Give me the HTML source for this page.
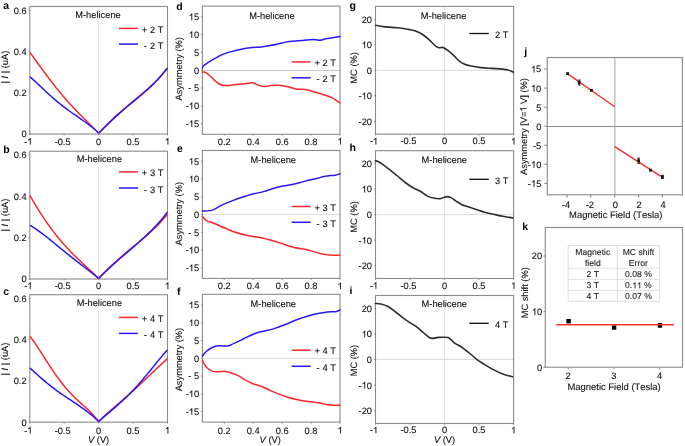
<!DOCTYPE html>
<html><head><meta charset="utf-8"><style>
html,body{margin:0;padding:0;background:#fff;overflow:hidden;width:685px;height:446px;}
svg{display:block;}
text{font-family:"Liberation Sans",sans-serif;text-rendering:geometricPrecision;font-kerning:none;white-space:pre;}
</style></head><body>
<svg width="685" height="446" viewBox="0 0 685 446">
<defs><filter id="soft" x="0" y="0" width="100%" height="100%" color-interpolation-filters="sRGB"><feOffset dx="0" dy="0"/></filter></defs>
<rect x="0" y="0" width="685" height="446" fill="#fff"/>
<g filter="url(#soft)">
<rect x="0" y="0" width="685" height="446" fill="#fff"/>
<line x1="98.60" y1="6.50" x2="98.60" y2="134.00" stroke="#e4e4e4" stroke-width="1.0"/>
<rect x="29.80" y="6.50" width="137.70" height="127.50" fill="none" stroke="#8a8a8a" stroke-width="1.1"/>
<line x1="28.50" y1="134.00" x2="29.80" y2="134.00" stroke="#8a8a8a" stroke-width="1.1"/>
<text x="26.60" y="137.40" font-size="9.3" text-anchor="end" font-weight="normal" fill="#111111" stroke="#111111" stroke-width="0.1" >0</text>
<line x1="28.50" y1="92.70" x2="29.80" y2="92.70" stroke="#8a8a8a" stroke-width="1.1"/>
<text x="26.60" y="96.10" font-size="9.3" text-anchor="end" font-weight="normal" fill="#111111" stroke="#111111" stroke-width="0.1" >0.2</text>
<line x1="28.50" y1="51.41" x2="29.80" y2="51.41" stroke="#8a8a8a" stroke-width="1.1"/>
<text x="26.60" y="54.81" font-size="9.3" text-anchor="end" font-weight="normal" fill="#111111" stroke="#111111" stroke-width="0.1" >0.4</text>
<line x1="28.50" y1="10.11" x2="29.80" y2="10.11" stroke="#8a8a8a" stroke-width="1.1"/>
<text x="26.60" y="13.51" font-size="9.3" text-anchor="end" font-weight="normal" fill="#111111" stroke="#111111" stroke-width="0.1" >0.6</text>
<line x1="29.75" y1="134.00" x2="29.75" y2="135.30" stroke="#8a8a8a" stroke-width="1.1"/>
<path d="M30.63,144.60 L29.81,144.60 L29.81,139.39 C29.52,139.67 29.04,139.95 28.18,140.38 L28.18,139.59 C29.02,139.21 29.67,138.65 30.08,137.94 L30.63,137.94 Z" fill="#111111" stroke="#111111" stroke-width="0.1"/>
<text x="27.16" y="144.60" font-size="9.3" text-anchor="start" font-weight="normal" fill="#111111" stroke="#111111" stroke-width="0.1" > </text>
<text x="27.36" y="144.60" font-size="9.3" text-anchor="end" font-weight="normal" fill="#111111" stroke="#111111" stroke-width="0.1" >-</text>
<line x1="64.17" y1="134.00" x2="64.17" y2="135.30" stroke="#8a8a8a" stroke-width="1.1"/>
<text x="64.17" y="144.60" font-size="9.3" text-anchor="middle" font-weight="normal" fill="#111111" stroke="#111111" stroke-width="0.1" >0.5</text>
<text x="57.91" y="144.60" font-size="9.3" text-anchor="end" font-weight="normal" fill="#111111" stroke="#111111" stroke-width="0.1" >-</text>
<line x1="98.60" y1="134.00" x2="98.60" y2="135.30" stroke="#8a8a8a" stroke-width="1.1"/>
<text x="98.60" y="144.60" font-size="9.3" text-anchor="middle" font-weight="normal" fill="#111111" stroke="#111111" stroke-width="0.1" >0</text>
<line x1="133.02" y1="134.00" x2="133.02" y2="135.30" stroke="#8a8a8a" stroke-width="1.1"/>
<text x="133.02" y="144.60" font-size="9.3" text-anchor="middle" font-weight="normal" fill="#111111" stroke="#111111" stroke-width="0.1" >0.5</text>
<line x1="167.45" y1="134.00" x2="167.45" y2="135.30" stroke="#8a8a8a" stroke-width="1.1"/>
<path d="M168.33,144.60 L167.51,144.60 L167.51,139.39 C167.22,139.67 166.74,139.95 165.88,140.38 L165.88,139.59 C166.72,139.21 167.37,138.65 167.78,137.94 L168.33,137.94 Z" fill="#111111" stroke="#111111" stroke-width="0.1"/>
<text x="164.86" y="144.60" font-size="9.3" text-anchor="start" font-weight="normal" fill="#111111" stroke="#111111" stroke-width="0.1" > </text>
<polyline points="98.60,133.00 96.84,131.23 95.08,129.48 93.32,127.74 91.56,126.01 89.81,124.27 88.05,122.54 86.29,120.81 84.53,119.06 82.77,117.30 81.01,115.53 79.25,113.74 77.49,111.93 75.73,110.09 73.97,108.23 72.22,106.34 70.46,104.42 68.70,102.48 66.94,100.50 65.18,98.49 63.42,96.44 61.66,94.37 59.90,92.26 58.14,90.12 56.38,87.94 54.63,85.74 52.87,83.50 51.11,81.24 49.35,78.94 47.59,76.62 45.83,74.28 44.07,71.91 42.31,69.53 40.55,67.13 38.79,64.71 37.04,62.28 35.28,59.85 33.52,57.41 31.76,54.98 30.00,52.55" fill="none" stroke="#fa272c" stroke-width="1.5" stroke-linejoin="round"/>
<polyline points="98.60,133.00 96.84,131.31 95.08,129.72 93.32,128.21 91.56,126.77 89.81,125.39 88.05,124.05 86.29,122.76 84.53,121.51 82.77,120.27 81.01,119.05 79.25,117.85 77.49,116.64 75.73,115.44 73.97,114.22 72.22,113.00 70.46,111.75 68.70,110.49 66.94,109.20 65.18,107.88 63.42,106.54 61.66,105.17 59.90,103.76 58.14,102.32 56.38,100.86 54.63,99.36 52.87,97.83 51.11,96.27 49.35,94.69 47.59,93.09 45.83,91.46 44.07,89.82 42.31,88.17 40.55,86.52 38.79,84.86 37.04,83.21 35.28,81.57 33.52,79.96 31.76,78.36 30.00,76.81" fill="none" stroke="#2818f8" stroke-width="1.5" stroke-linejoin="round"/>
<polyline points="98.60,133.30 100.36,131.46 102.12,129.64 103.88,127.84 105.65,126.06 107.41,124.31 109.17,122.58 110.93,120.87 112.69,119.19 114.45,117.53 116.22,115.90 117.98,114.30 119.74,112.71 121.50,111.15 123.26,109.62 125.02,108.10 126.78,106.59 128.55,105.11 130.31,103.63 132.07,102.17 133.83,100.72 135.59,99.26 137.35,97.81 139.12,96.35 140.88,94.89 142.64,93.41 144.40,91.92 146.16,90.40 147.92,88.85 149.68,87.27 151.45,85.65 153.21,83.99 154.97,82.27 156.73,80.49 158.49,78.65 160.25,76.73 162.02,74.73 163.78,72.65 165.54,70.46 167.30,68.17" fill="none" stroke="#fa272c" stroke-width="1.5" stroke-linejoin="round"/>
<polyline points="98.60,133.30 100.36,131.51 102.12,129.74 103.88,127.98 105.65,126.24 107.41,124.51 109.17,122.81 110.93,121.14 112.69,119.48 114.45,117.84 116.22,116.23 117.98,114.64 119.74,113.07 121.50,111.52 123.26,109.99 125.02,108.47 126.78,106.98 128.55,105.49 130.31,104.02 132.07,102.55 133.83,101.09 135.59,99.63 137.35,98.17 139.12,96.70 140.88,95.22 142.64,93.73 144.40,92.22 146.16,90.68 147.92,89.11 149.68,87.51 151.45,85.86 153.21,84.16 154.97,82.41 156.73,80.60 158.49,78.71 160.25,76.75 162.02,74.71 163.78,72.57 165.54,70.33 167.30,67.98" fill="none" stroke="#2818f8" stroke-width="1.5" stroke-linejoin="round"/>
<text x="98.00" y="17.90" font-size="9.3" text-anchor="middle" font-weight="normal" fill="#111111" stroke="#111111" stroke-width="0.1" >M-helicene</text>
<line x1="118.90" y1="28.40" x2="137.90" y2="28.40" stroke="#fa272c" stroke-width="1.5"/>
<line x1="118.90" y1="44.10" x2="137.90" y2="44.10" stroke="#2818f8" stroke-width="1.5"/>
<text x="150.00" y="32.90" font-size="9.3" text-anchor="start" font-weight="normal" fill="#111111" stroke="#111111" stroke-width="0.1" >2 T</text>
<text x="150.00" y="48.60" font-size="9.3" text-anchor="start" font-weight="normal" fill="#111111" stroke="#111111" stroke-width="0.1" >2 T</text>
<text x="141.70" y="32.90" font-size="9.3" text-anchor="start" font-weight="normal" fill="#111111" stroke="#111111" stroke-width="0.1" >+</text>
<text x="143.70" y="48.60" font-size="9.3" text-anchor="start" font-weight="normal" fill="#111111" stroke="#111111" stroke-width="0.1" >-</text>
<text x="3.20" y="8.60" font-size="10.5" text-anchor="start" font-weight="bold" fill="#000" stroke="#000" stroke-width="0" >a</text>
<text x="0" y="0" font-size="9.3" text-anchor="middle" fill="#111111" stroke="#111111" stroke-width="0.1" transform="translate(8.30,67.10) rotate(-90)">| <tspan font-style="italic">I</tspan> | (uA)</text>
<line x1="98.60" y1="151.20" x2="98.60" y2="279.00" stroke="#e4e4e4" stroke-width="1.0"/>
<rect x="29.80" y="151.20" width="137.70" height="127.80" fill="none" stroke="#8a8a8a" stroke-width="1.1"/>
<line x1="28.50" y1="279.00" x2="29.80" y2="279.00" stroke="#8a8a8a" stroke-width="1.1"/>
<text x="26.60" y="282.40" font-size="9.3" text-anchor="end" font-weight="normal" fill="#111111" stroke="#111111" stroke-width="0.1" >0</text>
<line x1="28.50" y1="237.61" x2="29.80" y2="237.61" stroke="#8a8a8a" stroke-width="1.1"/>
<text x="26.60" y="241.01" font-size="9.3" text-anchor="end" font-weight="normal" fill="#111111" stroke="#111111" stroke-width="0.1" >0.2</text>
<line x1="28.50" y1="196.21" x2="29.80" y2="196.21" stroke="#8a8a8a" stroke-width="1.1"/>
<text x="26.60" y="199.61" font-size="9.3" text-anchor="end" font-weight="normal" fill="#111111" stroke="#111111" stroke-width="0.1" >0.4</text>
<line x1="28.50" y1="154.82" x2="29.80" y2="154.82" stroke="#8a8a8a" stroke-width="1.1"/>
<text x="26.60" y="158.22" font-size="9.3" text-anchor="end" font-weight="normal" fill="#111111" stroke="#111111" stroke-width="0.1" >0.6</text>
<line x1="29.75" y1="279.00" x2="29.75" y2="280.30" stroke="#8a8a8a" stroke-width="1.1"/>
<path d="M30.63,289.00 L29.81,289.00 L29.81,283.79 C29.52,284.07 29.04,284.35 28.18,284.78 L28.18,283.99 C29.02,283.61 29.67,283.05 30.08,282.34 L30.63,282.34 Z" fill="#111111" stroke="#111111" stroke-width="0.1"/>
<text x="27.16" y="289.00" font-size="9.3" text-anchor="start" font-weight="normal" fill="#111111" stroke="#111111" stroke-width="0.1" > </text>
<text x="27.36" y="289.00" font-size="9.3" text-anchor="end" font-weight="normal" fill="#111111" stroke="#111111" stroke-width="0.1" >-</text>
<line x1="64.17" y1="279.00" x2="64.17" y2="280.30" stroke="#8a8a8a" stroke-width="1.1"/>
<text x="64.17" y="289.00" font-size="9.3" text-anchor="middle" font-weight="normal" fill="#111111" stroke="#111111" stroke-width="0.1" >0.5</text>
<text x="57.91" y="289.00" font-size="9.3" text-anchor="end" font-weight="normal" fill="#111111" stroke="#111111" stroke-width="0.1" >-</text>
<line x1="98.60" y1="279.00" x2="98.60" y2="280.30" stroke="#8a8a8a" stroke-width="1.1"/>
<text x="98.60" y="289.00" font-size="9.3" text-anchor="middle" font-weight="normal" fill="#111111" stroke="#111111" stroke-width="0.1" >0</text>
<line x1="133.02" y1="279.00" x2="133.02" y2="280.30" stroke="#8a8a8a" stroke-width="1.1"/>
<text x="133.02" y="289.00" font-size="9.3" text-anchor="middle" font-weight="normal" fill="#111111" stroke="#111111" stroke-width="0.1" >0.5</text>
<line x1="167.45" y1="279.00" x2="167.45" y2="280.30" stroke="#8a8a8a" stroke-width="1.1"/>
<path d="M168.33,289.00 L167.51,289.00 L167.51,283.79 C167.22,284.07 166.74,284.35 165.88,284.78 L165.88,283.99 C166.72,283.61 167.37,283.05 167.78,282.34 L168.33,282.34 Z" fill="#111111" stroke="#111111" stroke-width="0.1"/>
<text x="164.86" y="289.00" font-size="9.3" text-anchor="start" font-weight="normal" fill="#111111" stroke="#111111" stroke-width="0.1" > </text>
<polyline points="98.60,278.40 96.84,276.67 95.08,274.97 93.32,273.30 91.56,271.64 89.81,270.00 88.05,268.36 86.29,266.72 84.53,265.09 82.77,263.44 81.01,261.79 79.25,260.12 77.49,258.43 75.73,256.72 73.97,254.98 72.22,253.21 70.46,251.41 68.70,249.57 66.94,247.69 65.18,245.76 63.42,243.79 61.66,241.78 59.90,239.71 58.14,237.59 56.38,235.42 54.63,233.19 52.87,230.91 51.11,228.56 49.35,226.16 47.59,223.69 45.83,221.16 44.07,218.57 42.31,215.92 40.55,213.20 38.79,210.42 37.04,207.57 35.28,204.66 33.52,201.69 31.76,198.65 30.00,195.55" fill="none" stroke="#fa272c" stroke-width="1.5" stroke-linejoin="round"/>
<polyline points="98.60,278.40 96.84,276.95 95.08,275.53 93.32,274.12 91.56,272.73 89.81,271.36 88.05,269.99 86.29,268.64 84.53,267.28 82.77,265.92 81.01,264.57 79.25,263.21 77.49,261.85 75.73,260.48 73.97,259.10 72.22,257.71 70.46,256.32 68.70,254.92 66.94,253.51 65.18,252.09 63.42,250.67 61.66,249.24 59.90,247.80 58.14,246.36 56.38,244.92 54.63,243.48 52.87,242.04 51.11,240.61 49.35,239.19 47.59,237.78 45.83,236.39 44.07,235.01 42.31,233.66 40.55,232.34 38.79,231.06 37.04,229.81 35.28,228.60 33.52,227.45 31.76,226.35 30.00,225.31" fill="none" stroke="#2818f8" stroke-width="1.5" stroke-linejoin="round"/>
<polyline points="98.60,278.50 100.36,276.64 102.12,274.81 103.88,273.01 105.65,271.25 107.41,269.51 109.17,267.80 110.93,266.13 112.69,264.48 114.45,262.85 116.22,261.25 117.98,259.68 119.74,258.13 121.50,256.60 123.26,255.08 125.02,253.59 126.78,252.10 128.55,250.63 130.31,249.17 132.07,247.71 133.83,246.26 135.59,244.81 137.35,243.36 139.12,241.90 140.88,240.43 142.64,238.95 144.40,237.45 146.16,235.93 147.92,234.39 149.68,232.81 151.45,231.21 153.21,229.56 154.97,227.87 156.73,226.14 158.49,224.35 160.25,222.51 162.02,220.60 163.78,218.62 165.54,216.57 167.30,214.44" fill="none" stroke="#fa272c" stroke-width="1.5" stroke-linejoin="round"/>
<polyline points="98.60,278.50 100.36,276.73 102.12,274.99 103.88,273.27 105.65,271.57 107.41,269.90 109.17,268.25 110.93,266.63 112.69,265.02 114.45,263.43 116.22,261.85 117.98,260.29 119.74,258.75 121.50,257.21 123.26,255.69 125.02,254.17 126.78,252.65 128.55,251.14 130.31,249.63 132.07,248.11 133.83,246.59 135.59,245.06 137.35,243.52 139.12,241.97 140.88,240.39 142.64,238.80 144.40,237.18 146.16,235.54 147.92,233.87 149.68,232.16 151.45,230.41 153.21,228.62 154.97,226.78 156.73,224.89 158.49,222.95 160.25,220.95 162.02,218.89 163.78,216.75 165.54,214.55 167.30,212.27" fill="none" stroke="#2818f8" stroke-width="1.5" stroke-linejoin="round"/>
<text x="99.40" y="161.80" font-size="9.3" text-anchor="middle" font-weight="normal" fill="#111111" stroke="#111111" stroke-width="0.1" >M-helicene</text>
<line x1="118.90" y1="171.90" x2="137.90" y2="171.90" stroke="#fa272c" stroke-width="1.5"/>
<line x1="118.90" y1="188.00" x2="137.90" y2="188.00" stroke="#2818f8" stroke-width="1.5"/>
<text x="150.00" y="176.40" font-size="9.3" text-anchor="start" font-weight="normal" fill="#111111" stroke="#111111" stroke-width="0.1" >3 T</text>
<text x="150.00" y="192.50" font-size="9.3" text-anchor="start" font-weight="normal" fill="#111111" stroke="#111111" stroke-width="0.1" >3 T</text>
<text x="141.70" y="176.40" font-size="9.3" text-anchor="start" font-weight="normal" fill="#111111" stroke="#111111" stroke-width="0.1" >+</text>
<text x="143.70" y="192.50" font-size="9.3" text-anchor="start" font-weight="normal" fill="#111111" stroke="#111111" stroke-width="0.1" >-</text>
<text x="3.20" y="153.10" font-size="10.5" text-anchor="start" font-weight="bold" fill="#000" stroke="#000" stroke-width="0" >b</text>
<text x="0" y="0" font-size="9.3" text-anchor="middle" fill="#111111" stroke="#111111" stroke-width="0.1" transform="translate(8.30,215.00) rotate(-90)">| <tspan font-style="italic">I</tspan> | (uA)</text>
<line x1="98.60" y1="294.70" x2="98.60" y2="422.20" stroke="#e4e4e4" stroke-width="1.0"/>
<rect x="29.80" y="294.70" width="137.70" height="127.50" fill="none" stroke="#8a8a8a" stroke-width="1.1"/>
<line x1="28.50" y1="422.20" x2="29.80" y2="422.20" stroke="#8a8a8a" stroke-width="1.1"/>
<text x="26.60" y="425.60" font-size="9.3" text-anchor="end" font-weight="normal" fill="#111111" stroke="#111111" stroke-width="0.1" >0</text>
<line x1="28.50" y1="380.90" x2="29.80" y2="380.90" stroke="#8a8a8a" stroke-width="1.1"/>
<text x="26.60" y="384.30" font-size="9.3" text-anchor="end" font-weight="normal" fill="#111111" stroke="#111111" stroke-width="0.1" >0.2</text>
<line x1="28.50" y1="339.61" x2="29.80" y2="339.61" stroke="#8a8a8a" stroke-width="1.1"/>
<text x="26.60" y="343.01" font-size="9.3" text-anchor="end" font-weight="normal" fill="#111111" stroke="#111111" stroke-width="0.1" >0.4</text>
<line x1="28.50" y1="298.31" x2="29.80" y2="298.31" stroke="#8a8a8a" stroke-width="1.1"/>
<text x="26.60" y="301.71" font-size="9.3" text-anchor="end" font-weight="normal" fill="#111111" stroke="#111111" stroke-width="0.1" >0.6</text>
<line x1="29.75" y1="422.20" x2="29.75" y2="423.50" stroke="#8a8a8a" stroke-width="1.1"/>
<path d="M30.63,433.50 L29.81,433.50 L29.81,428.29 C29.52,428.57 29.04,428.85 28.18,429.28 L28.18,428.49 C29.02,428.11 29.67,427.55 30.08,426.84 L30.63,426.84 Z" fill="#111111" stroke="#111111" stroke-width="0.1"/>
<text x="27.16" y="433.50" font-size="9.3" text-anchor="start" font-weight="normal" fill="#111111" stroke="#111111" stroke-width="0.1" > </text>
<text x="27.36" y="433.50" font-size="9.3" text-anchor="end" font-weight="normal" fill="#111111" stroke="#111111" stroke-width="0.1" >-</text>
<line x1="64.17" y1="422.20" x2="64.17" y2="423.50" stroke="#8a8a8a" stroke-width="1.1"/>
<text x="64.17" y="433.50" font-size="9.3" text-anchor="middle" font-weight="normal" fill="#111111" stroke="#111111" stroke-width="0.1" >0.5</text>
<text x="57.91" y="433.50" font-size="9.3" text-anchor="end" font-weight="normal" fill="#111111" stroke="#111111" stroke-width="0.1" >-</text>
<line x1="98.60" y1="422.20" x2="98.60" y2="423.50" stroke="#8a8a8a" stroke-width="1.1"/>
<text x="98.60" y="433.50" font-size="9.3" text-anchor="middle" font-weight="normal" fill="#111111" stroke="#111111" stroke-width="0.1" >0</text>
<line x1="133.02" y1="422.20" x2="133.02" y2="423.50" stroke="#8a8a8a" stroke-width="1.1"/>
<text x="133.02" y="433.50" font-size="9.3" text-anchor="middle" font-weight="normal" fill="#111111" stroke="#111111" stroke-width="0.1" >0.5</text>
<line x1="167.45" y1="422.20" x2="167.45" y2="423.50" stroke="#8a8a8a" stroke-width="1.1"/>
<path d="M168.33,433.50 L167.51,433.50 L167.51,428.29 C167.22,428.57 166.74,428.85 165.88,429.28 L165.88,428.49 C166.72,428.11 167.37,427.55 167.78,426.84 L168.33,426.84 Z" fill="#111111" stroke="#111111" stroke-width="0.1"/>
<text x="164.86" y="433.50" font-size="9.3" text-anchor="start" font-weight="normal" fill="#111111" stroke="#111111" stroke-width="0.1" > </text>
<polyline points="98.60,421.50 96.84,419.23 95.08,417.12 93.32,415.14 91.56,413.28 89.81,411.51 88.05,409.80 86.29,408.15 84.53,406.54 82.77,404.94 81.01,403.34 79.25,401.72 77.49,400.09 75.73,398.42 73.97,396.70 72.22,394.92 70.46,393.08 68.70,391.18 66.94,389.20 65.18,387.15 63.42,385.01 61.66,382.80 59.90,380.51 58.14,378.14 56.38,375.70 54.63,373.18 52.87,370.61 51.11,367.97 49.35,365.29 47.59,362.57 45.83,359.82 44.07,357.06 42.31,354.30 40.55,351.55 38.79,348.83 37.04,346.15 35.28,343.55 33.52,341.03 31.76,338.61 30.00,336.33" fill="none" stroke="#fa272c" stroke-width="1.5" stroke-linejoin="round"/>
<polyline points="98.60,421.50 96.84,419.77 95.08,418.13 93.32,416.55 91.56,415.05 89.81,413.61 88.05,412.22 86.29,410.88 84.53,409.58 82.77,408.31 81.01,407.07 79.25,405.86 77.49,404.67 75.73,403.48 73.97,402.31 72.22,401.15 70.46,399.98 68.70,398.81 66.94,397.63 65.18,396.45 63.42,395.25 61.66,394.03 59.90,392.80 58.14,391.55 56.38,390.27 54.63,388.97 52.87,387.65 51.11,386.30 49.35,384.92 47.59,383.51 45.83,382.08 44.07,380.61 42.31,379.12 40.55,377.61 38.79,376.06 37.04,374.50 35.28,372.90 33.52,371.29 31.76,369.65 30.00,368.00" fill="none" stroke="#2818f8" stroke-width="1.5" stroke-linejoin="round"/>
<polyline points="98.60,421.60 100.36,419.87 102.12,418.18 103.88,416.53 105.65,414.91 107.41,413.31 109.17,411.74 110.93,410.18 112.69,408.63 114.45,407.10 116.22,405.57 117.98,404.04 119.74,402.51 121.50,400.99 123.26,399.45 125.02,397.91 126.78,396.36 128.55,394.81 130.31,393.24 132.07,391.66 133.83,390.07 135.59,388.46 137.35,386.85 139.12,385.22 140.88,383.58 142.64,381.93 144.40,380.27 146.16,378.60 147.92,376.93 149.68,375.25 151.45,373.57 153.21,371.89 154.97,370.21 156.73,368.54 158.49,366.87 160.25,365.22 162.02,363.59 163.78,361.98 165.54,360.39 167.30,358.84" fill="none" stroke="#fa272c" stroke-width="1.5" stroke-linejoin="round"/>
<polyline points="98.60,421.60 100.36,419.99 102.12,418.42 103.88,416.88 105.65,415.37 107.41,413.87 109.17,412.38 110.93,410.89 112.69,409.40 114.45,407.90 116.22,406.38 117.98,404.84 119.74,403.28 121.50,401.68 123.26,400.06 125.02,398.40 126.78,396.70 128.55,394.97 130.31,393.20 132.07,391.38 133.83,389.53 135.59,387.63 137.35,385.70 139.12,383.72 140.88,381.71 142.64,379.67 144.40,377.59 146.16,375.49 147.92,373.36 149.68,371.22 151.45,369.06 153.21,366.88 154.97,364.71 156.73,362.54 158.49,360.37 160.25,358.23 162.02,356.11 163.78,354.02 165.54,351.98 167.30,349.98" fill="none" stroke="#2818f8" stroke-width="1.5" stroke-linejoin="round"/>
<text x="99.40" y="305.90" font-size="9.3" text-anchor="middle" font-weight="normal" fill="#111111" stroke="#111111" stroke-width="0.1" >M-helicene</text>
<line x1="118.90" y1="317.40" x2="137.90" y2="317.40" stroke="#fa272c" stroke-width="1.5"/>
<line x1="118.90" y1="333.40" x2="137.90" y2="333.40" stroke="#2818f8" stroke-width="1.5"/>
<text x="150.00" y="321.90" font-size="9.3" text-anchor="start" font-weight="normal" fill="#111111" stroke="#111111" stroke-width="0.1" >4 T</text>
<text x="150.00" y="337.90" font-size="9.3" text-anchor="start" font-weight="normal" fill="#111111" stroke="#111111" stroke-width="0.1" >4 T</text>
<text x="141.70" y="321.90" font-size="9.3" text-anchor="start" font-weight="normal" fill="#111111" stroke="#111111" stroke-width="0.1" >+</text>
<text x="143.70" y="337.90" font-size="9.3" text-anchor="start" font-weight="normal" fill="#111111" stroke="#111111" stroke-width="0.1" >-</text>
<text x="3.20" y="294.90" font-size="10.5" text-anchor="start" font-weight="bold" fill="#000" stroke="#000" stroke-width="0" >c</text>
<text x="0" y="0" font-size="9.3" text-anchor="middle" fill="#111111" stroke="#111111" stroke-width="0.1" transform="translate(8.30,359.00) rotate(-90)">| <tspan font-style="italic">I</tspan> | (uA)</text>
<text x="98.60" y="443.00" font-size="9.3" text-anchor="middle" font-weight="normal" fill="#111111" stroke="#111111" stroke-width="0.1" ><tspan font-style="italic">V</tspan> (V)</text>
<line x1="202.40" y1="70.50" x2="340.00" y2="70.50" stroke="#c8c8c8" stroke-width="1.0"/>
<rect x="202.40" y="6.10" width="137.60" height="128.20" fill="none" stroke="#8a8a8a" stroke-width="1.1"/>
<line x1="201.10" y1="16.78" x2="202.40" y2="16.78" stroke="#8a8a8a" stroke-width="1.1"/>
<path d="M192.22,20.18 L191.40,20.18 L191.40,14.97 C191.11,15.26 190.63,15.54 189.77,15.96 L189.77,15.17 C190.62,14.79 191.27,14.23 191.68,13.53 L192.22,13.53 Z" fill="#111111" stroke="#111111" stroke-width="0.1"/>
<text x="188.76" y="20.18" font-size="9.3" text-anchor="start" font-weight="normal" fill="#111111" stroke="#111111" stroke-width="0.1" xml:space="preserve"> 5</text>
<line x1="201.10" y1="34.59" x2="202.40" y2="34.59" stroke="#8a8a8a" stroke-width="1.1"/>
<path d="M192.22,37.99 L191.40,37.99 L191.40,32.78 C191.11,33.06 190.63,33.34 189.77,33.77 L189.77,32.98 C190.62,32.59 191.27,32.04 191.68,31.33 L192.22,31.33 Z" fill="#111111" stroke="#111111" stroke-width="0.1"/>
<text x="188.76" y="37.99" font-size="9.3" text-anchor="start" font-weight="normal" fill="#111111" stroke="#111111" stroke-width="0.1" xml:space="preserve"> 0</text>
<line x1="201.10" y1="52.39" x2="202.40" y2="52.39" stroke="#8a8a8a" stroke-width="1.1"/>
<text x="199.10" y="55.79" font-size="9.3" text-anchor="end" font-weight="normal" fill="#111111" stroke="#111111" stroke-width="0.1" xml:space="preserve">5</text>
<line x1="201.10" y1="70.20" x2="202.40" y2="70.20" stroke="#8a8a8a" stroke-width="1.1"/>
<text x="199.10" y="73.60" font-size="9.3" text-anchor="end" font-weight="normal" fill="#111111" stroke="#111111" stroke-width="0.1" xml:space="preserve">0</text>
<line x1="201.10" y1="88.01" x2="202.40" y2="88.01" stroke="#8a8a8a" stroke-width="1.1"/>
<text x="199.10" y="91.41" font-size="9.3" text-anchor="end" font-weight="normal" fill="#111111" stroke="#111111" stroke-width="0.1" xml:space="preserve">- 5</text>
<line x1="201.10" y1="105.81" x2="202.40" y2="105.81" stroke="#8a8a8a" stroke-width="1.1"/>
<path d="M192.22,109.21 L191.40,109.21 L191.40,104.00 C191.11,104.28 190.63,104.57 189.77,104.99 L189.77,104.20 C190.62,103.82 191.27,103.26 191.68,102.55 L192.22,102.55 Z" fill="#111111" stroke="#111111" stroke-width="0.1"/>
<text x="185.66" y="109.21" font-size="9.3" text-anchor="start" font-weight="normal" fill="#111111" stroke="#111111" stroke-width="0.1" xml:space="preserve">- 0</text>
<line x1="201.10" y1="123.62" x2="202.40" y2="123.62" stroke="#8a8a8a" stroke-width="1.1"/>
<path d="M192.22,127.02 L191.40,127.02 L191.40,121.81 C191.11,122.09 190.63,122.37 189.77,122.79 L189.77,122.00 C190.62,121.62 191.27,121.06 191.68,120.36 L192.22,120.36 Z" fill="#111111" stroke="#111111" stroke-width="0.1"/>
<text x="185.66" y="127.02" font-size="9.3" text-anchor="start" font-weight="normal" fill="#111111" stroke="#111111" stroke-width="0.1" xml:space="preserve">- 5</text>
<line x1="224.24" y1="134.30" x2="224.24" y2="135.60" stroke="#8a8a8a" stroke-width="1.1"/>
<text x="224.24" y="144.50" font-size="9.3" text-anchor="middle" font-weight="normal" fill="#111111" stroke="#111111" stroke-width="0.1" >0.2</text>
<line x1="253.18" y1="134.30" x2="253.18" y2="135.60" stroke="#8a8a8a" stroke-width="1.1"/>
<text x="253.18" y="144.50" font-size="9.3" text-anchor="middle" font-weight="normal" fill="#111111" stroke="#111111" stroke-width="0.1" >0.4</text>
<line x1="282.12" y1="134.30" x2="282.12" y2="135.60" stroke="#8a8a8a" stroke-width="1.1"/>
<text x="282.12" y="144.50" font-size="9.3" text-anchor="middle" font-weight="normal" fill="#111111" stroke="#111111" stroke-width="0.1" >0.6</text>
<line x1="311.06" y1="134.30" x2="311.06" y2="135.60" stroke="#8a8a8a" stroke-width="1.1"/>
<text x="311.06" y="144.50" font-size="9.3" text-anchor="middle" font-weight="normal" fill="#111111" stroke="#111111" stroke-width="0.1" >0.8</text>
<line x1="340.00" y1="134.30" x2="340.00" y2="135.60" stroke="#8a8a8a" stroke-width="1.1"/>
<path d="M340.88,144.50 L340.06,144.50 L340.06,139.29 C339.77,139.57 339.29,139.85 338.43,140.28 L338.43,139.49 C339.27,139.11 339.92,138.55 340.33,137.84 L340.88,137.84 Z" fill="#111111" stroke="#111111" stroke-width="0.1"/>
<text x="337.41" y="144.50" font-size="9.3" text-anchor="start" font-weight="normal" fill="#111111" stroke="#111111" stroke-width="0.1" > </text>
<path d="M202.40,68.10 C202.60,67.72 202.20,67.00 203.60,65.80 C205.00,64.60 208.40,62.40 210.80,60.90 C213.20,59.40 215.92,57.93 218.00,56.80 C220.08,55.67 220.92,55.00 223.30,54.10 C225.68,53.20 229.30,52.20 232.30,51.40 C235.30,50.60 238.30,49.90 241.30,49.30 C244.30,48.70 247.02,48.20 250.30,47.80 C253.58,47.40 257.72,47.28 261.00,46.90 C264.28,46.52 267.32,45.95 270.00,45.50 C272.68,45.05 273.90,44.85 277.10,44.20 C280.30,43.55 285.15,42.23 289.20,41.60 C293.25,40.97 297.35,40.75 301.40,40.40 C305.45,40.05 310.30,39.53 313.50,39.50 C316.70,39.47 318.58,40.33 320.60,40.20 C322.62,40.07 323.42,39.15 325.60,38.70 C327.78,38.25 331.30,37.87 333.70,37.50 C336.10,37.13 338.95,36.67 340.00,36.50" fill="none" stroke="#2818f8" stroke-width="1.5" stroke-linejoin="round" stroke-linecap="round"/>
<path d="M202.40,72.10 C202.90,72.15 204.00,71.67 205.40,72.40 C206.80,73.13 209.00,74.92 210.80,76.50 C212.60,78.08 214.42,80.48 216.20,81.90 C217.98,83.32 219.72,84.40 221.50,85.00 C223.28,85.60 224.50,85.57 226.90,85.50 C229.30,85.43 232.90,84.90 235.90,84.60 C238.90,84.30 242.35,84.00 244.90,83.70 C247.45,83.40 249.70,82.88 251.20,82.80 C252.70,82.72 252.57,82.75 253.90,83.20 C255.23,83.65 257.42,84.93 259.20,85.50 C260.98,86.07 262.63,86.58 264.60,86.60 C266.57,86.62 268.58,85.83 271.00,85.60 C273.42,85.37 276.40,85.03 279.10,85.20 C281.80,85.37 284.17,85.93 287.20,86.60 C290.23,87.27 294.27,88.73 297.30,89.20 C300.33,89.67 302.70,88.98 305.40,89.40 C308.10,89.82 310.47,90.82 313.50,91.70 C316.53,92.58 320.57,93.70 323.60,94.70 C326.63,95.70 328.97,96.35 331.70,97.70 C334.43,99.05 338.62,101.95 340.00,102.80" fill="none" stroke="#fa272c" stroke-width="1.5" stroke-linejoin="round" stroke-linecap="round"/>
<text x="271.90" y="18.60" font-size="9.3" text-anchor="middle" font-weight="normal" fill="#111111" stroke="#111111" stroke-width="0.1" >M-helicene</text>
<line x1="291.60" y1="61.90" x2="310.70" y2="61.90" stroke="#fa272c" stroke-width="1.5"/>
<line x1="291.60" y1="77.80" x2="310.70" y2="77.80" stroke="#2818f8" stroke-width="1.5"/>
<text x="322.50" y="66.10" font-size="9.3" text-anchor="start" font-weight="normal" fill="#111111" stroke="#111111" stroke-width="0.1" >2 T</text>
<text x="322.50" y="82.00" font-size="9.3" text-anchor="start" font-weight="normal" fill="#111111" stroke="#111111" stroke-width="0.1" >2 T</text>
<text x="314.40" y="66.10" font-size="9.3" text-anchor="start" font-weight="normal" fill="#111111" stroke="#111111" stroke-width="0.1" >+</text>
<text x="316.40" y="82.00" font-size="9.3" text-anchor="start" font-weight="normal" fill="#111111" stroke="#111111" stroke-width="0.1" >-</text>
<text x="176.30" y="9.80" font-size="10.5" text-anchor="start" font-weight="bold" fill="#000" stroke="#000" stroke-width="0" >d</text>
<text x="0" y="0" font-size="9.3" text-anchor="middle" fill="#111111" stroke="#111111" stroke-width="0.1" transform="translate(182.20,68.80) rotate(-90)">Asymmetry (%)</text>
<line x1="202.40" y1="214.50" x2="340.00" y2="214.50" stroke="#e0e0e0" stroke-width="1.0"/>
<rect x="202.40" y="150.50" width="137.60" height="127.90" fill="none" stroke="#8a8a8a" stroke-width="1.1"/>
<line x1="201.10" y1="161.16" x2="202.40" y2="161.16" stroke="#8a8a8a" stroke-width="1.1"/>
<path d="M192.22,164.56 L191.40,164.56 L191.40,159.35 C191.11,159.63 190.63,159.91 189.77,160.34 L189.77,159.54 C190.62,159.16 191.27,158.61 191.68,157.90 L192.22,157.90 Z" fill="#111111" stroke="#111111" stroke-width="0.1"/>
<text x="188.76" y="164.56" font-size="9.3" text-anchor="start" font-weight="normal" fill="#111111" stroke="#111111" stroke-width="0.1" xml:space="preserve"> 5</text>
<line x1="201.10" y1="178.92" x2="202.40" y2="178.92" stroke="#8a8a8a" stroke-width="1.1"/>
<path d="M192.22,182.32 L191.40,182.32 L191.40,177.11 C191.11,177.40 190.63,177.68 189.77,178.10 L189.77,177.31 C190.62,176.93 191.27,176.37 191.68,175.67 L192.22,175.67 Z" fill="#111111" stroke="#111111" stroke-width="0.1"/>
<text x="188.76" y="182.32" font-size="9.3" text-anchor="start" font-weight="normal" fill="#111111" stroke="#111111" stroke-width="0.1" xml:space="preserve"> 0</text>
<line x1="201.10" y1="196.69" x2="202.40" y2="196.69" stroke="#8a8a8a" stroke-width="1.1"/>
<text x="199.10" y="200.09" font-size="9.3" text-anchor="end" font-weight="normal" fill="#111111" stroke="#111111" stroke-width="0.1" xml:space="preserve">5</text>
<line x1="201.10" y1="214.45" x2="202.40" y2="214.45" stroke="#8a8a8a" stroke-width="1.1"/>
<text x="199.10" y="217.85" font-size="9.3" text-anchor="end" font-weight="normal" fill="#111111" stroke="#111111" stroke-width="0.1" xml:space="preserve">0</text>
<line x1="201.10" y1="232.21" x2="202.40" y2="232.21" stroke="#8a8a8a" stroke-width="1.1"/>
<text x="199.10" y="235.61" font-size="9.3" text-anchor="end" font-weight="normal" fill="#111111" stroke="#111111" stroke-width="0.1" xml:space="preserve">- 5</text>
<line x1="201.10" y1="249.98" x2="202.40" y2="249.98" stroke="#8a8a8a" stroke-width="1.1"/>
<path d="M192.22,253.38 L191.40,253.38 L191.40,248.17 C191.11,248.45 190.63,248.73 189.77,249.15 L189.77,248.36 C190.62,247.98 191.27,247.43 191.68,246.72 L192.22,246.72 Z" fill="#111111" stroke="#111111" stroke-width="0.1"/>
<text x="185.66" y="253.38" font-size="9.3" text-anchor="start" font-weight="normal" fill="#111111" stroke="#111111" stroke-width="0.1" xml:space="preserve">- 0</text>
<line x1="201.10" y1="267.74" x2="202.40" y2="267.74" stroke="#8a8a8a" stroke-width="1.1"/>
<path d="M192.22,271.14 L191.40,271.14 L191.40,265.93 C191.11,266.21 190.63,266.50 189.77,266.92 L189.77,266.13 C190.62,265.75 191.27,265.19 191.68,264.48 L192.22,264.48 Z" fill="#111111" stroke="#111111" stroke-width="0.1"/>
<text x="185.66" y="271.14" font-size="9.3" text-anchor="start" font-weight="normal" fill="#111111" stroke="#111111" stroke-width="0.1" xml:space="preserve">- 5</text>
<line x1="224.24" y1="278.40" x2="224.24" y2="279.70" stroke="#8a8a8a" stroke-width="1.1"/>
<text x="224.24" y="289.20" font-size="9.3" text-anchor="middle" font-weight="normal" fill="#111111" stroke="#111111" stroke-width="0.1" >0.2</text>
<line x1="253.18" y1="278.40" x2="253.18" y2="279.70" stroke="#8a8a8a" stroke-width="1.1"/>
<text x="253.18" y="289.20" font-size="9.3" text-anchor="middle" font-weight="normal" fill="#111111" stroke="#111111" stroke-width="0.1" >0.4</text>
<line x1="282.12" y1="278.40" x2="282.12" y2="279.70" stroke="#8a8a8a" stroke-width="1.1"/>
<text x="282.12" y="289.20" font-size="9.3" text-anchor="middle" font-weight="normal" fill="#111111" stroke="#111111" stroke-width="0.1" >0.6</text>
<line x1="311.06" y1="278.40" x2="311.06" y2="279.70" stroke="#8a8a8a" stroke-width="1.1"/>
<text x="311.06" y="289.20" font-size="9.3" text-anchor="middle" font-weight="normal" fill="#111111" stroke="#111111" stroke-width="0.1" >0.8</text>
<line x1="340.00" y1="278.40" x2="340.00" y2="279.70" stroke="#8a8a8a" stroke-width="1.1"/>
<path d="M340.88,289.20 L340.06,289.20 L340.06,283.99 C339.77,284.27 339.29,284.55 338.43,284.98 L338.43,284.19 C339.27,283.81 339.92,283.25 340.33,282.54 L340.88,282.54 Z" fill="#111111" stroke="#111111" stroke-width="0.1"/>
<text x="337.41" y="289.20" font-size="9.3" text-anchor="start" font-weight="normal" fill="#111111" stroke="#111111" stroke-width="0.1" > </text>
<path d="M202.40,211.10 C204.12,210.93 209.57,211.05 212.70,210.10 C215.83,209.15 217.67,207.07 221.20,205.40 C224.73,203.73 229.67,201.68 233.90,200.10 C238.13,198.52 243.13,196.98 246.60,195.90 C250.07,194.82 251.88,194.32 254.70,193.60 C257.52,192.88 259.57,192.70 263.50,191.60 C267.43,190.50 273.72,188.15 278.30,187.00 C282.88,185.85 287.35,185.43 291.00,184.70 C294.65,183.97 297.17,183.37 300.20,182.60 C303.23,181.83 306.40,180.77 309.20,180.10 C312.00,179.43 314.77,179.17 317.00,178.60 C319.23,178.03 320.35,177.20 322.60,176.70 C324.85,176.20 328.43,175.85 330.50,175.60 C332.57,175.35 333.42,175.50 335.00,175.20 C336.58,174.90 339.17,174.03 340.00,173.80" fill="none" stroke="#2818f8" stroke-width="1.5" stroke-linejoin="round" stroke-linecap="round"/>
<path d="M202.40,216.40 C203.07,217.10 204.75,219.55 206.40,220.60 C208.05,221.65 210.55,222.05 212.30,222.70 C214.05,223.35 214.72,223.57 216.90,224.50 C219.08,225.43 222.22,226.97 225.40,228.30 C228.58,229.63 232.12,231.27 236.00,232.50 C239.88,233.73 244.12,234.75 248.70,235.70 C253.28,236.65 258.57,237.08 263.50,238.20 C268.43,239.32 273.37,240.88 278.30,242.40 C283.23,243.92 288.52,246.13 293.10,247.30 C297.68,248.47 301.57,248.45 305.80,249.40 C310.03,250.35 314.62,252.05 318.50,253.00 C322.38,253.95 325.52,254.75 329.10,255.10 C332.68,255.45 338.18,255.10 340.00,255.10" fill="none" stroke="#fa272c" stroke-width="1.5" stroke-linejoin="round" stroke-linecap="round"/>
<text x="273.30" y="162.60" font-size="9.3" text-anchor="middle" font-weight="normal" fill="#111111" stroke="#111111" stroke-width="0.1" >M-helicene</text>
<line x1="291.60" y1="206.50" x2="310.70" y2="206.50" stroke="#fa272c" stroke-width="1.5"/>
<line x1="291.60" y1="222.30" x2="310.70" y2="222.30" stroke="#2818f8" stroke-width="1.5"/>
<text x="322.50" y="210.70" font-size="9.3" text-anchor="start" font-weight="normal" fill="#111111" stroke="#111111" stroke-width="0.1" >3 T</text>
<text x="322.50" y="226.50" font-size="9.3" text-anchor="start" font-weight="normal" fill="#111111" stroke="#111111" stroke-width="0.1" >3 T</text>
<text x="314.40" y="210.70" font-size="9.3" text-anchor="start" font-weight="normal" fill="#111111" stroke="#111111" stroke-width="0.1" >+</text>
<text x="316.40" y="226.50" font-size="9.3" text-anchor="start" font-weight="normal" fill="#111111" stroke="#111111" stroke-width="0.1" >-</text>
<text x="177.10" y="151.60" font-size="10.5" text-anchor="start" font-weight="bold" fill="#000" stroke="#000" stroke-width="0" >e</text>
<text x="0" y="0" font-size="9.3" text-anchor="middle" fill="#111111" stroke="#111111" stroke-width="0.1" transform="translate(182.20,213.70) rotate(-90)">Asymmetry (%)</text>
<line x1="202.40" y1="358.50" x2="340.00" y2="358.50" stroke="#e0e0e0" stroke-width="1.0"/>
<rect x="202.40" y="294.30" width="137.60" height="127.80" fill="none" stroke="#8a8a8a" stroke-width="1.1"/>
<line x1="201.10" y1="304.95" x2="202.40" y2="304.95" stroke="#8a8a8a" stroke-width="1.1"/>
<path d="M192.22,308.35 L191.40,308.35 L191.40,303.14 C191.11,303.42 190.63,303.70 189.77,304.13 L189.77,303.34 C190.62,302.96 191.27,302.40 191.68,301.69 L192.22,301.69 Z" fill="#111111" stroke="#111111" stroke-width="0.1"/>
<text x="188.76" y="308.35" font-size="9.3" text-anchor="start" font-weight="normal" fill="#111111" stroke="#111111" stroke-width="0.1" xml:space="preserve"> 5</text>
<line x1="201.10" y1="322.70" x2="202.40" y2="322.70" stroke="#8a8a8a" stroke-width="1.1"/>
<path d="M192.22,326.10 L191.40,326.10 L191.40,320.89 C191.11,321.17 190.63,321.45 189.77,321.88 L189.77,321.09 C190.62,320.71 191.27,320.15 191.68,319.44 L192.22,319.44 Z" fill="#111111" stroke="#111111" stroke-width="0.1"/>
<text x="188.76" y="326.10" font-size="9.3" text-anchor="start" font-weight="normal" fill="#111111" stroke="#111111" stroke-width="0.1" xml:space="preserve"> 0</text>
<line x1="201.10" y1="340.45" x2="202.40" y2="340.45" stroke="#8a8a8a" stroke-width="1.1"/>
<text x="199.10" y="343.85" font-size="9.3" text-anchor="end" font-weight="normal" fill="#111111" stroke="#111111" stroke-width="0.1" xml:space="preserve">5</text>
<line x1="201.10" y1="358.20" x2="202.40" y2="358.20" stroke="#8a8a8a" stroke-width="1.1"/>
<text x="199.10" y="361.60" font-size="9.3" text-anchor="end" font-weight="normal" fill="#111111" stroke="#111111" stroke-width="0.1" xml:space="preserve">0</text>
<line x1="201.10" y1="375.95" x2="202.40" y2="375.95" stroke="#8a8a8a" stroke-width="1.1"/>
<text x="199.10" y="379.35" font-size="9.3" text-anchor="end" font-weight="normal" fill="#111111" stroke="#111111" stroke-width="0.1" xml:space="preserve">- 5</text>
<line x1="201.10" y1="393.70" x2="202.40" y2="393.70" stroke="#8a8a8a" stroke-width="1.1"/>
<path d="M192.22,397.10 L191.40,397.10 L191.40,391.89 C191.11,392.17 190.63,392.45 189.77,392.88 L189.77,392.09 C190.62,391.71 191.27,391.15 191.68,390.44 L192.22,390.44 Z" fill="#111111" stroke="#111111" stroke-width="0.1"/>
<text x="185.66" y="397.10" font-size="9.3" text-anchor="start" font-weight="normal" fill="#111111" stroke="#111111" stroke-width="0.1" xml:space="preserve">- 0</text>
<line x1="201.10" y1="411.45" x2="202.40" y2="411.45" stroke="#8a8a8a" stroke-width="1.1"/>
<path d="M192.22,414.85 L191.40,414.85 L191.40,409.64 C191.11,409.92 190.63,410.20 189.77,410.63 L189.77,409.84 C190.62,409.46 191.27,408.90 191.68,408.19 L192.22,408.19 Z" fill="#111111" stroke="#111111" stroke-width="0.1"/>
<text x="185.66" y="414.85" font-size="9.3" text-anchor="start" font-weight="normal" fill="#111111" stroke="#111111" stroke-width="0.1" xml:space="preserve">- 5</text>
<line x1="224.24" y1="422.10" x2="224.24" y2="423.40" stroke="#8a8a8a" stroke-width="1.1"/>
<text x="224.24" y="433.50" font-size="9.3" text-anchor="middle" font-weight="normal" fill="#111111" stroke="#111111" stroke-width="0.1" >0.2</text>
<line x1="253.18" y1="422.10" x2="253.18" y2="423.40" stroke="#8a8a8a" stroke-width="1.1"/>
<text x="253.18" y="433.50" font-size="9.3" text-anchor="middle" font-weight="normal" fill="#111111" stroke="#111111" stroke-width="0.1" >0.4</text>
<line x1="282.12" y1="422.10" x2="282.12" y2="423.40" stroke="#8a8a8a" stroke-width="1.1"/>
<text x="282.12" y="433.50" font-size="9.3" text-anchor="middle" font-weight="normal" fill="#111111" stroke="#111111" stroke-width="0.1" >0.6</text>
<line x1="311.06" y1="422.10" x2="311.06" y2="423.40" stroke="#8a8a8a" stroke-width="1.1"/>
<text x="311.06" y="433.50" font-size="9.3" text-anchor="middle" font-weight="normal" fill="#111111" stroke="#111111" stroke-width="0.1" >0.8</text>
<line x1="340.00" y1="422.10" x2="340.00" y2="423.40" stroke="#8a8a8a" stroke-width="1.1"/>
<path d="M340.88,433.50 L340.06,433.50 L340.06,428.29 C339.77,428.57 339.29,428.85 338.43,429.28 L338.43,428.49 C339.27,428.11 339.92,427.55 340.33,426.84 L340.88,426.84 Z" fill="#111111" stroke="#111111" stroke-width="0.1"/>
<text x="337.41" y="433.50" font-size="9.3" text-anchor="start" font-weight="normal" fill="#111111" stroke="#111111" stroke-width="0.1" > </text>
<path d="M202.40,356.10 C203.03,355.33 204.55,352.93 206.20,351.50 C207.85,350.07 210.28,348.45 212.30,347.50 C214.32,346.55 215.77,346.05 218.30,345.80 C220.83,345.55 224.90,346.40 227.50,346.00 C230.10,345.60 231.73,344.33 233.90,343.40 C236.07,342.47 238.73,341.27 240.50,340.40 C242.27,339.53 241.72,339.48 244.50,338.20 C247.28,336.92 253.83,333.90 257.20,332.70 C260.57,331.50 261.88,331.68 264.70,331.00 C267.52,330.32 270.77,329.63 274.10,328.60 C277.43,327.57 280.82,326.32 284.70,324.80 C288.58,323.28 292.47,321.27 297.40,319.50 C302.33,317.73 309.37,315.43 314.30,314.20 C319.23,312.97 323.47,312.52 327.00,312.10 C330.53,311.68 333.33,312.05 335.50,311.70 C337.67,311.35 339.25,310.28 340.00,310.00" fill="none" stroke="#2818f8" stroke-width="1.5" stroke-linejoin="round" stroke-linecap="round"/>
<path d="M202.40,360.40 C203.07,361.53 204.75,365.42 206.40,367.20 C208.05,368.98 210.32,370.35 212.30,371.10 C214.28,371.85 216.12,371.65 218.30,371.70 C220.48,371.75 223.38,371.23 225.40,371.40 C227.42,371.57 228.28,372.00 230.40,372.70 C232.52,373.40 235.73,374.45 238.10,375.60 C240.47,376.75 242.13,378.25 244.60,379.60 C247.07,380.95 250.10,382.60 252.90,383.70 C255.70,384.80 258.57,385.08 261.40,386.20 C264.23,387.32 267.05,389.12 269.90,390.40 C272.75,391.68 275.65,392.80 278.50,393.90 C281.35,395.00 284.15,396.10 287.00,397.00 C289.85,397.90 292.75,398.63 295.60,399.30 C298.45,399.97 301.27,400.57 304.10,401.00 C306.93,401.43 309.75,401.52 312.60,401.90 C315.45,402.28 318.35,402.78 321.20,403.30 C324.05,403.82 326.57,404.67 329.70,405.00 C332.83,405.33 338.28,405.25 340.00,405.30" fill="none" stroke="#fa272c" stroke-width="1.5" stroke-linejoin="round" stroke-linecap="round"/>
<text x="273.30" y="306.60" font-size="9.3" text-anchor="middle" font-weight="normal" fill="#111111" stroke="#111111" stroke-width="0.1" >M-helicene</text>
<line x1="291.60" y1="350.20" x2="310.70" y2="350.20" stroke="#fa272c" stroke-width="1.5"/>
<line x1="291.60" y1="366.30" x2="310.70" y2="366.30" stroke="#2818f8" stroke-width="1.5"/>
<text x="322.50" y="354.40" font-size="9.3" text-anchor="start" font-weight="normal" fill="#111111" stroke="#111111" stroke-width="0.1" >4 T</text>
<text x="322.50" y="370.50" font-size="9.3" text-anchor="start" font-weight="normal" fill="#111111" stroke="#111111" stroke-width="0.1" >4 T</text>
<text x="314.40" y="354.40" font-size="9.3" text-anchor="start" font-weight="normal" fill="#111111" stroke="#111111" stroke-width="0.1" >+</text>
<text x="316.40" y="370.50" font-size="9.3" text-anchor="start" font-weight="normal" fill="#111111" stroke="#111111" stroke-width="0.1" >-</text>
<text x="177.10" y="294.90" font-size="10.5" text-anchor="start" font-weight="bold" fill="#000" stroke="#000" stroke-width="0" >f</text>
<text x="0" y="0" font-size="9.3" text-anchor="middle" fill="#111111" stroke="#111111" stroke-width="0.1" transform="translate(182.20,359.60) rotate(-90)">Asymmetry (%)</text>
<text x="270.20" y="443.00" font-size="9.3" text-anchor="middle" font-weight="normal" fill="#111111" stroke="#111111" stroke-width="0.1" ><tspan font-style="italic">V</tspan> (V)</text>
<line x1="444.50" y1="6.40" x2="444.50" y2="134.20" stroke="#e2e2e2" stroke-width="1.0"/>
<line x1="375.50" y1="70.30" x2="513.60" y2="70.30" stroke="#dadada" stroke-width="1.0"/>
<rect x="375.50" y="6.40" width="138.10" height="127.80" fill="none" stroke="#8a8a8a" stroke-width="1.1"/>
<line x1="374.20" y1="19.18" x2="375.50" y2="19.18" stroke="#8a8a8a" stroke-width="1.1"/>
<text x="372.00" y="22.58" font-size="9.3" text-anchor="end" font-weight="normal" fill="#111111" stroke="#111111" stroke-width="0.1" >20</text>
<line x1="374.20" y1="44.74" x2="375.50" y2="44.74" stroke="#8a8a8a" stroke-width="1.1"/>
<path d="M365.12,48.14 L364.30,48.14 L364.30,42.93 C364.01,43.21 363.53,43.49 362.67,43.92 L362.67,43.13 C363.52,42.75 364.17,42.19 364.58,41.48 L365.12,41.48 Z" fill="#111111" stroke="#111111" stroke-width="0.1"/>
<text x="361.66" y="48.14" font-size="9.3" text-anchor="start" font-weight="normal" fill="#111111" stroke="#111111" stroke-width="0.1" > 0</text>
<line x1="374.20" y1="70.30" x2="375.50" y2="70.30" stroke="#8a8a8a" stroke-width="1.1"/>
<text x="372.00" y="73.70" font-size="9.3" text-anchor="end" font-weight="normal" fill="#111111" stroke="#111111" stroke-width="0.1" >0</text>
<line x1="374.20" y1="95.86" x2="375.50" y2="95.86" stroke="#8a8a8a" stroke-width="1.1"/>
<path d="M365.12,99.26 L364.30,99.26 L364.30,94.05 C364.01,94.33 363.53,94.61 362.67,95.04 L362.67,94.25 C363.52,93.87 364.17,93.31 364.58,92.60 L365.12,92.60 Z" fill="#111111" stroke="#111111" stroke-width="0.1"/>
<text x="358.56" y="99.26" font-size="9.3" text-anchor="start" font-weight="normal" fill="#111111" stroke="#111111" stroke-width="0.1" >- 0</text>
<line x1="374.20" y1="121.42" x2="375.50" y2="121.42" stroke="#8a8a8a" stroke-width="1.1"/>
<text x="372.00" y="124.82" font-size="9.3" text-anchor="end" font-weight="normal" fill="#111111" stroke="#111111" stroke-width="0.1" >-20</text>
<line x1="375.45" y1="134.20" x2="375.45" y2="135.50" stroke="#8a8a8a" stroke-width="1.1"/>
<path d="M376.33,144.40 L375.51,144.40 L375.51,139.19 C375.22,139.47 374.74,139.75 373.88,140.18 L373.88,139.39 C374.72,139.01 375.37,138.45 375.78,137.74 L376.33,137.74 Z" fill="#111111" stroke="#111111" stroke-width="0.1"/>
<text x="372.86" y="144.40" font-size="9.3" text-anchor="start" font-weight="normal" fill="#111111" stroke="#111111" stroke-width="0.1" > </text>
<text x="373.06" y="144.40" font-size="9.3" text-anchor="end" font-weight="normal" fill="#111111" stroke="#111111" stroke-width="0.1" >-</text>
<line x1="409.98" y1="134.20" x2="409.98" y2="135.50" stroke="#8a8a8a" stroke-width="1.1"/>
<text x="409.98" y="144.40" font-size="9.3" text-anchor="middle" font-weight="normal" fill="#111111" stroke="#111111" stroke-width="0.1" >0.5</text>
<text x="403.71" y="144.40" font-size="9.3" text-anchor="end" font-weight="normal" fill="#111111" stroke="#111111" stroke-width="0.1" >-</text>
<line x1="444.50" y1="134.20" x2="444.50" y2="135.50" stroke="#8a8a8a" stroke-width="1.1"/>
<text x="444.50" y="144.40" font-size="9.3" text-anchor="middle" font-weight="normal" fill="#111111" stroke="#111111" stroke-width="0.1" >0</text>
<line x1="479.02" y1="134.20" x2="479.02" y2="135.50" stroke="#8a8a8a" stroke-width="1.1"/>
<text x="479.02" y="144.40" font-size="9.3" text-anchor="middle" font-weight="normal" fill="#111111" stroke="#111111" stroke-width="0.1" >0.5</text>
<line x1="513.55" y1="134.20" x2="513.55" y2="135.50" stroke="#8a8a8a" stroke-width="1.1"/>
<path d="M514.43,144.40 L513.61,144.40 L513.61,139.19 C513.32,139.47 512.84,139.75 511.98,140.18 L511.98,139.39 C512.82,139.01 513.47,138.45 513.88,137.74 L514.43,137.74 Z" fill="#111111" stroke="#111111" stroke-width="0.1"/>
<text x="510.96" y="144.40" font-size="9.3" text-anchor="start" font-weight="normal" fill="#111111" stroke="#111111" stroke-width="0.1" > </text>
<path d="M375.60,25.20 C376.93,25.43 380.02,26.17 383.60,26.60 C387.18,27.03 393.53,27.45 397.10,27.80 C400.67,28.15 402.85,28.40 405.00,28.70 C407.15,29.00 408.13,29.17 410.00,29.60 C411.87,30.03 414.15,30.53 416.20,31.30 C418.25,32.07 420.25,32.90 422.30,34.20 C424.35,35.50 426.65,37.47 428.50,39.10 C430.35,40.73 431.97,42.67 433.40,44.00 C434.83,45.33 436.07,46.48 437.10,47.10 C438.13,47.72 438.68,47.65 439.60,47.70 C440.52,47.75 441.58,47.18 442.60,47.40 C443.62,47.62 444.57,48.28 445.70,49.00 C446.83,49.72 447.95,50.50 449.40,51.70 C450.85,52.90 452.75,54.63 454.40,56.20 C456.05,57.77 457.67,59.82 459.30,61.10 C460.93,62.38 462.42,63.12 464.20,63.90 C465.98,64.68 467.18,65.18 470.00,65.80 C472.82,66.42 477.45,67.17 481.10,67.60 C484.75,68.03 488.32,68.15 491.90,68.40 C495.48,68.65 499.92,68.83 502.60,69.10 C505.28,69.37 506.20,69.48 508.00,70.00 C509.80,70.52 512.50,71.83 513.40,72.20" fill="none" stroke="#2e2e2e" stroke-width="1.6" stroke-linejoin="round" stroke-linecap="round"/>
<text x="443.60" y="18.80" font-size="9.3" text-anchor="middle" font-weight="normal" fill="#111111" stroke="#111111" stroke-width="0.1" >M-helicene</text>
<line x1="469.40" y1="33.50" x2="488.80" y2="33.50" stroke="#151515" stroke-width="1.35"/>
<text x="494.90" y="38.00" font-size="9.3" text-anchor="start" font-weight="normal" fill="#111111" stroke="#111111" stroke-width="0.1" >2 T</text>
<text x="349.60" y="8.60" font-size="10.5" text-anchor="start" font-weight="bold" fill="#000" stroke="#000" stroke-width="0" >g</text>
<text x="0" y="0" font-size="9.3" text-anchor="middle" fill="#111111" stroke="#111111" stroke-width="0.1" transform="translate(356.50,67.90) rotate(-90)">MC (%)</text>
<line x1="444.50" y1="150.70" x2="444.50" y2="278.50" stroke="#e2e2e2" stroke-width="1.0"/>
<line x1="375.50" y1="214.60" x2="513.60" y2="214.60" stroke="#dadada" stroke-width="1.0"/>
<rect x="375.50" y="150.70" width="138.10" height="127.80" fill="none" stroke="#8a8a8a" stroke-width="1.1"/>
<line x1="374.20" y1="163.48" x2="375.50" y2="163.48" stroke="#8a8a8a" stroke-width="1.1"/>
<text x="372.00" y="166.88" font-size="9.3" text-anchor="end" font-weight="normal" fill="#111111" stroke="#111111" stroke-width="0.1" >20</text>
<line x1="374.20" y1="189.04" x2="375.50" y2="189.04" stroke="#8a8a8a" stroke-width="1.1"/>
<path d="M365.12,192.44 L364.30,192.44 L364.30,187.23 C364.01,187.51 363.53,187.79 362.67,188.22 L362.67,187.43 C363.52,187.05 364.17,186.49 364.58,185.78 L365.12,185.78 Z" fill="#111111" stroke="#111111" stroke-width="0.1"/>
<text x="361.66" y="192.44" font-size="9.3" text-anchor="start" font-weight="normal" fill="#111111" stroke="#111111" stroke-width="0.1" > 0</text>
<line x1="374.20" y1="214.60" x2="375.50" y2="214.60" stroke="#8a8a8a" stroke-width="1.1"/>
<text x="372.00" y="218.00" font-size="9.3" text-anchor="end" font-weight="normal" fill="#111111" stroke="#111111" stroke-width="0.1" >0</text>
<line x1="374.20" y1="240.16" x2="375.50" y2="240.16" stroke="#8a8a8a" stroke-width="1.1"/>
<path d="M365.12,243.56 L364.30,243.56 L364.30,238.35 C364.01,238.63 363.53,238.91 362.67,239.34 L362.67,238.55 C363.52,238.17 364.17,237.61 364.58,236.90 L365.12,236.90 Z" fill="#111111" stroke="#111111" stroke-width="0.1"/>
<text x="358.56" y="243.56" font-size="9.3" text-anchor="start" font-weight="normal" fill="#111111" stroke="#111111" stroke-width="0.1" >- 0</text>
<line x1="374.20" y1="265.72" x2="375.50" y2="265.72" stroke="#8a8a8a" stroke-width="1.1"/>
<text x="372.00" y="269.12" font-size="9.3" text-anchor="end" font-weight="normal" fill="#111111" stroke="#111111" stroke-width="0.1" >-20</text>
<line x1="375.45" y1="278.50" x2="375.45" y2="279.80" stroke="#8a8a8a" stroke-width="1.1"/>
<path d="M376.33,288.80 L375.51,288.80 L375.51,283.59 C375.22,283.87 374.74,284.15 373.88,284.58 L373.88,283.79 C374.72,283.41 375.37,282.85 375.78,282.14 L376.33,282.14 Z" fill="#111111" stroke="#111111" stroke-width="0.1"/>
<text x="372.86" y="288.80" font-size="9.3" text-anchor="start" font-weight="normal" fill="#111111" stroke="#111111" stroke-width="0.1" > </text>
<text x="373.06" y="288.80" font-size="9.3" text-anchor="end" font-weight="normal" fill="#111111" stroke="#111111" stroke-width="0.1" >-</text>
<line x1="409.98" y1="278.50" x2="409.98" y2="279.80" stroke="#8a8a8a" stroke-width="1.1"/>
<text x="409.98" y="288.80" font-size="9.3" text-anchor="middle" font-weight="normal" fill="#111111" stroke="#111111" stroke-width="0.1" >0.5</text>
<text x="403.71" y="288.80" font-size="9.3" text-anchor="end" font-weight="normal" fill="#111111" stroke="#111111" stroke-width="0.1" >-</text>
<line x1="444.50" y1="278.50" x2="444.50" y2="279.80" stroke="#8a8a8a" stroke-width="1.1"/>
<text x="444.50" y="288.80" font-size="9.3" text-anchor="middle" font-weight="normal" fill="#111111" stroke="#111111" stroke-width="0.1" >0</text>
<line x1="479.02" y1="278.50" x2="479.02" y2="279.80" stroke="#8a8a8a" stroke-width="1.1"/>
<text x="479.02" y="288.80" font-size="9.3" text-anchor="middle" font-weight="normal" fill="#111111" stroke="#111111" stroke-width="0.1" >0.5</text>
<line x1="513.55" y1="278.50" x2="513.55" y2="279.80" stroke="#8a8a8a" stroke-width="1.1"/>
<path d="M514.43,288.80 L513.61,288.80 L513.61,283.59 C513.32,283.87 512.84,284.15 511.98,284.58 L511.98,283.79 C512.82,283.41 513.47,282.85 513.88,282.14 L514.43,282.14 Z" fill="#111111" stroke="#111111" stroke-width="0.1"/>
<text x="510.96" y="288.80" font-size="9.3" text-anchor="start" font-weight="normal" fill="#111111" stroke="#111111" stroke-width="0.1" > </text>
<path d="M375.40,160.80 C376.00,161.00 376.92,160.75 379.00,162.00 C381.08,163.25 384.92,166.05 387.90,168.30 C390.88,170.55 393.90,173.05 396.90,175.50 C399.90,177.95 403.22,180.97 405.90,183.00 C408.58,185.03 410.62,186.32 413.00,187.70 C415.38,189.08 417.80,189.90 420.20,191.30 C422.60,192.70 425.00,194.93 427.40,196.10 C429.80,197.27 432.43,197.88 434.60,198.30 C436.77,198.72 438.90,198.75 440.40,198.60 C441.90,198.45 442.48,197.73 443.60,197.40 C444.72,197.07 445.87,196.57 447.10,196.60 C448.33,196.63 449.57,196.90 451.00,197.60 C452.43,198.30 453.87,199.62 455.70,200.80 C457.53,201.98 459.92,203.72 462.00,204.70 C464.08,205.68 465.85,205.92 468.20,206.70 C470.55,207.48 473.22,208.43 476.10,209.40 C478.98,210.37 482.37,211.63 485.50,212.50 C488.63,213.37 492.03,213.98 494.90,214.60 C497.77,215.22 499.70,215.63 502.70,216.20 C505.70,216.77 511.20,217.70 512.90,218.00" fill="none" stroke="#2e2e2e" stroke-width="1.6" stroke-linejoin="round" stroke-linecap="round"/>
<text x="444.30" y="162.80" font-size="9.3" text-anchor="middle" font-weight="normal" fill="#111111" stroke="#111111" stroke-width="0.1" >M-helicene</text>
<line x1="469.40" y1="179.30" x2="488.80" y2="179.30" stroke="#151515" stroke-width="1.35"/>
<text x="494.90" y="183.80" font-size="9.3" text-anchor="start" font-weight="normal" fill="#111111" stroke="#111111" stroke-width="0.1" >3 T</text>
<text x="349.60" y="151.00" font-size="10.5" text-anchor="start" font-weight="bold" fill="#000" stroke="#000" stroke-width="0" >h</text>
<text x="0" y="0" font-size="9.3" text-anchor="middle" fill="#111111" stroke="#111111" stroke-width="0.1" transform="translate(356.50,217.00) rotate(-90)">MC (%)</text>
<line x1="444.50" y1="295.50" x2="444.50" y2="423.50" stroke="#e2e2e2" stroke-width="1.0"/>
<line x1="375.50" y1="359.50" x2="513.60" y2="359.50" stroke="#dadada" stroke-width="1.0"/>
<rect x="375.50" y="295.50" width="138.10" height="128.00" fill="none" stroke="#8a8a8a" stroke-width="1.1"/>
<line x1="374.20" y1="308.30" x2="375.50" y2="308.30" stroke="#8a8a8a" stroke-width="1.1"/>
<text x="372.00" y="311.70" font-size="9.3" text-anchor="end" font-weight="normal" fill="#111111" stroke="#111111" stroke-width="0.1" >20</text>
<line x1="374.20" y1="333.90" x2="375.50" y2="333.90" stroke="#8a8a8a" stroke-width="1.1"/>
<path d="M365.12,337.30 L364.30,337.30 L364.30,332.09 C364.01,332.37 363.53,332.65 362.67,333.08 L362.67,332.29 C363.52,331.91 364.17,331.35 364.58,330.64 L365.12,330.64 Z" fill="#111111" stroke="#111111" stroke-width="0.1"/>
<text x="361.66" y="337.30" font-size="9.3" text-anchor="start" font-weight="normal" fill="#111111" stroke="#111111" stroke-width="0.1" > 0</text>
<line x1="374.20" y1="359.50" x2="375.50" y2="359.50" stroke="#8a8a8a" stroke-width="1.1"/>
<text x="372.00" y="362.90" font-size="9.3" text-anchor="end" font-weight="normal" fill="#111111" stroke="#111111" stroke-width="0.1" >0</text>
<line x1="374.20" y1="385.10" x2="375.50" y2="385.10" stroke="#8a8a8a" stroke-width="1.1"/>
<path d="M365.12,388.50 L364.30,388.50 L364.30,383.29 C364.01,383.57 363.53,383.85 362.67,384.28 L362.67,383.49 C363.52,383.11 364.17,382.55 364.58,381.84 L365.12,381.84 Z" fill="#111111" stroke="#111111" stroke-width="0.1"/>
<text x="358.56" y="388.50" font-size="9.3" text-anchor="start" font-weight="normal" fill="#111111" stroke="#111111" stroke-width="0.1" >- 0</text>
<line x1="374.20" y1="410.70" x2="375.50" y2="410.70" stroke="#8a8a8a" stroke-width="1.1"/>
<text x="372.00" y="414.10" font-size="9.3" text-anchor="end" font-weight="normal" fill="#111111" stroke="#111111" stroke-width="0.1" >-20</text>
<line x1="375.45" y1="423.50" x2="375.45" y2="424.80" stroke="#8a8a8a" stroke-width="1.1"/>
<path d="M376.33,433.30 L375.51,433.30 L375.51,428.09 C375.22,428.37 374.74,428.65 373.88,429.08 L373.88,428.29 C374.72,427.91 375.37,427.35 375.78,426.64 L376.33,426.64 Z" fill="#111111" stroke="#111111" stroke-width="0.1"/>
<text x="372.86" y="433.30" font-size="9.3" text-anchor="start" font-weight="normal" fill="#111111" stroke="#111111" stroke-width="0.1" > </text>
<text x="373.06" y="433.30" font-size="9.3" text-anchor="end" font-weight="normal" fill="#111111" stroke="#111111" stroke-width="0.1" >-</text>
<line x1="409.98" y1="423.50" x2="409.98" y2="424.80" stroke="#8a8a8a" stroke-width="1.1"/>
<text x="409.98" y="433.30" font-size="9.3" text-anchor="middle" font-weight="normal" fill="#111111" stroke="#111111" stroke-width="0.1" >0.5</text>
<text x="403.71" y="433.30" font-size="9.3" text-anchor="end" font-weight="normal" fill="#111111" stroke="#111111" stroke-width="0.1" >-</text>
<line x1="444.50" y1="423.50" x2="444.50" y2="424.80" stroke="#8a8a8a" stroke-width="1.1"/>
<text x="444.50" y="433.30" font-size="9.3" text-anchor="middle" font-weight="normal" fill="#111111" stroke="#111111" stroke-width="0.1" >0</text>
<line x1="479.02" y1="423.50" x2="479.02" y2="424.80" stroke="#8a8a8a" stroke-width="1.1"/>
<text x="479.02" y="433.30" font-size="9.3" text-anchor="middle" font-weight="normal" fill="#111111" stroke="#111111" stroke-width="0.1" >0.5</text>
<line x1="513.55" y1="423.50" x2="513.55" y2="424.80" stroke="#8a8a8a" stroke-width="1.1"/>
<path d="M514.43,433.30 L513.61,433.30 L513.61,428.09 C513.32,428.37 512.84,428.65 511.98,429.08 L511.98,428.29 C512.82,427.91 513.47,427.35 513.88,426.64 L514.43,426.64 Z" fill="#111111" stroke="#111111" stroke-width="0.1"/>
<text x="510.96" y="433.30" font-size="9.3" text-anchor="start" font-weight="normal" fill="#111111" stroke="#111111" stroke-width="0.1" > </text>
<path d="M375.40,303.50 C376.30,303.58 378.72,303.50 380.80,304.00 C382.88,304.50 385.52,305.25 387.90,306.50 C390.28,307.75 392.70,309.70 395.10,311.50 C397.50,313.30 399.90,315.50 402.30,317.30 C404.70,319.10 407.12,320.72 409.50,322.30 C411.88,323.88 414.22,325.02 416.60,326.80 C418.98,328.58 421.70,331.22 423.80,333.00 C425.90,334.78 427.70,336.60 429.20,337.50 C430.70,338.40 431.30,338.42 432.80,338.40 C434.30,338.38 436.42,337.60 438.20,337.40 C439.98,337.20 441.87,337.18 443.50,337.20 C445.13,337.22 446.75,337.10 448.00,337.50 C449.25,337.90 449.95,338.72 451.00,339.60 C452.05,340.48 453.13,341.90 454.30,342.80 C455.47,343.70 456.50,344.08 458.00,345.00 C459.50,345.92 461.22,346.80 463.30,348.30 C465.38,349.80 468.10,352.03 470.50,354.00 C472.90,355.97 475.32,358.33 477.70,360.10 C480.08,361.87 482.12,362.97 484.80,364.60 C487.48,366.23 490.80,368.33 493.80,369.90 C496.80,371.47 499.67,372.85 502.80,374.00 C505.93,375.15 510.97,376.33 512.60,376.80" fill="none" stroke="#2e2e2e" stroke-width="1.6" stroke-linejoin="round" stroke-linecap="round"/>
<text x="444.30" y="306.80" font-size="9.3" text-anchor="middle" font-weight="normal" fill="#111111" stroke="#111111" stroke-width="0.1" >M-helicene</text>
<line x1="469.40" y1="323.30" x2="488.80" y2="323.30" stroke="#151515" stroke-width="1.35"/>
<text x="494.90" y="327.80" font-size="9.3" text-anchor="start" font-weight="normal" fill="#111111" stroke="#111111" stroke-width="0.1" >4 T</text>
<text x="349.60" y="293.70" font-size="10.5" text-anchor="start" font-weight="bold" fill="#000" stroke="#000" stroke-width="0" >i</text>
<text x="0" y="0" font-size="9.3" text-anchor="middle" fill="#111111" stroke="#111111" stroke-width="0.1" transform="translate(356.50,360.60) rotate(-90)">MC (%)</text>
<text x="444.55" y="443.00" font-size="9.3" text-anchor="middle" font-weight="normal" fill="#111111" stroke="#111111" stroke-width="0.1" ><tspan font-style="italic">V</tspan> (V)</text>
<line x1="614.90" y1="57.50" x2="614.90" y2="194.80" stroke="#a4a4a4" stroke-width="1.0"/>
<line x1="547.30" y1="126.50" x2="682.40" y2="126.50" stroke="#8e8e8e" stroke-width="1.0"/>
<rect x="547.30" y="57.50" width="135.10" height="137.30" fill="none" stroke="#8a8a8a" stroke-width="1.1"/>
<line x1="544.30" y1="69.05" x2="547.30" y2="69.05" stroke="#8a8a8a" stroke-width="1.1"/>
<path d="M534.42,72.45 L533.60,72.45 L533.60,67.24 C533.31,67.52 532.83,67.80 531.97,68.23 L531.97,67.44 C532.82,67.06 533.47,66.50 533.88,65.79 L534.42,65.79 Z" fill="#111111" stroke="#111111" stroke-width="0.1"/>
<text x="530.96" y="72.45" font-size="9.3" text-anchor="start" font-weight="normal" fill="#111111" stroke="#111111" stroke-width="0.1" > 5</text>
<line x1="544.30" y1="88.10" x2="547.30" y2="88.10" stroke="#8a8a8a" stroke-width="1.1"/>
<path d="M534.42,91.50 L533.60,91.50 L533.60,86.29 C533.31,86.57 532.83,86.85 531.97,87.28 L531.97,86.49 C532.82,86.11 533.47,85.55 533.88,84.84 L534.42,84.84 Z" fill="#111111" stroke="#111111" stroke-width="0.1"/>
<text x="530.96" y="91.50" font-size="9.3" text-anchor="start" font-weight="normal" fill="#111111" stroke="#111111" stroke-width="0.1" > 0</text>
<line x1="544.30" y1="107.15" x2="547.30" y2="107.15" stroke="#8a8a8a" stroke-width="1.1"/>
<text x="541.30" y="110.55" font-size="9.3" text-anchor="end" font-weight="normal" fill="#111111" stroke="#111111" stroke-width="0.1" >5</text>
<line x1="544.30" y1="126.20" x2="547.30" y2="126.20" stroke="#8a8a8a" stroke-width="1.1"/>
<text x="541.30" y="129.60" font-size="9.3" text-anchor="end" font-weight="normal" fill="#111111" stroke="#111111" stroke-width="0.1" >0</text>
<line x1="544.30" y1="145.25" x2="547.30" y2="145.25" stroke="#8a8a8a" stroke-width="1.1"/>
<text x="541.30" y="148.65" font-size="9.3" text-anchor="end" font-weight="normal" fill="#111111" stroke="#111111" stroke-width="0.1" >-5</text>
<line x1="544.30" y1="164.30" x2="547.30" y2="164.30" stroke="#8a8a8a" stroke-width="1.1"/>
<path d="M534.42,167.70 L533.60,167.70 L533.60,162.49 C533.31,162.77 532.83,163.05 531.97,163.48 L531.97,162.69 C532.82,162.31 533.47,161.75 533.88,161.04 L534.42,161.04 Z" fill="#111111" stroke="#111111" stroke-width="0.1"/>
<text x="527.86" y="167.70" font-size="9.3" text-anchor="start" font-weight="normal" fill="#111111" stroke="#111111" stroke-width="0.1" >- 0</text>
<line x1="544.30" y1="183.35" x2="547.30" y2="183.35" stroke="#8a8a8a" stroke-width="1.1"/>
<path d="M534.42,186.75 L533.60,186.75 L533.60,181.54 C533.31,181.82 532.83,182.10 531.97,182.53 L531.97,181.74 C532.82,181.36 533.47,180.80 533.88,180.09 L534.42,180.09 Z" fill="#111111" stroke="#111111" stroke-width="0.1"/>
<text x="527.86" y="186.75" font-size="9.3" text-anchor="start" font-weight="normal" fill="#111111" stroke="#111111" stroke-width="0.1" >- 5</text>
<line x1="566.98" y1="194.80" x2="566.98" y2="197.40" stroke="#8a8a8a" stroke-width="1.1"/>
<text x="567.58" y="208.10" font-size="9.3" text-anchor="middle" font-weight="normal" fill="#111111" stroke="#111111" stroke-width="0.1" >4</text>
<text x="565.19" y="208.10" font-size="9.3" text-anchor="end" font-weight="normal" fill="#111111" stroke="#111111" stroke-width="0.1" >-</text>
<line x1="590.84" y1="194.80" x2="590.84" y2="197.40" stroke="#8a8a8a" stroke-width="1.1"/>
<text x="591.44" y="208.10" font-size="9.3" text-anchor="middle" font-weight="normal" fill="#111111" stroke="#111111" stroke-width="0.1" >2</text>
<text x="589.05" y="208.10" font-size="9.3" text-anchor="end" font-weight="normal" fill="#111111" stroke="#111111" stroke-width="0.1" >-</text>
<line x1="614.70" y1="194.80" x2="614.70" y2="197.40" stroke="#8a8a8a" stroke-width="1.1"/>
<text x="615.30" y="208.10" font-size="9.3" text-anchor="middle" font-weight="normal" fill="#111111" stroke="#111111" stroke-width="0.1" >0</text>
<line x1="638.56" y1="194.80" x2="638.56" y2="197.40" stroke="#8a8a8a" stroke-width="1.1"/>
<text x="639.16" y="208.10" font-size="9.3" text-anchor="middle" font-weight="normal" fill="#111111" stroke="#111111" stroke-width="0.1" >2</text>
<line x1="662.42" y1="194.80" x2="662.42" y2="197.40" stroke="#8a8a8a" stroke-width="1.1"/>
<text x="663.02" y="208.10" font-size="9.3" text-anchor="middle" font-weight="normal" fill="#111111" stroke="#111111" stroke-width="0.1" >4</text>
<text x="615.75" y="217.90" font-size="9.45" text-anchor="middle" font-weight="normal" fill="#111111" stroke="#111111" stroke-width="0.1" >Magnetic Field (Tesla)</text>
<g transform="translate(526.50,126.50) rotate(-90)"><text x="-48.45" y="0" font-size="9.3" text-anchor="start" fill="#111111" stroke="#111111" stroke-width="0.1">Asymmetry [V=  V] (%)</text><path d="M18.32,0.00 L17.50,0.00 L17.50,-5.21 C17.21,-4.93 16.73,-4.65 15.87,-4.22 L15.87,-5.01 C16.72,-5.39 17.37,-5.95 17.78,-6.66 L18.32,-6.66 Z" fill="#111111" stroke="#111111" stroke-width="0.1"/></g>
<text x="524.30" y="55.30" font-size="10.5" text-anchor="start" font-weight="bold" fill="#000" stroke="#000" stroke-width="0" >j</text>
<line x1="567.00" y1="73.40" x2="614.70" y2="106.80" stroke="#fa272c" stroke-width="1.3"/>
<line x1="614.70" y1="146.60" x2="663.00" y2="177.60" stroke="#fa272c" stroke-width="1.3"/>
<rect x="566.20" y="72.20" width="2.8" height="2.8" fill="#111"/>
<rect x="577.80" y="81.10" width="2.8" height="2.8" fill="#111"/>
<line x1="579.20" y1="80.00" x2="579.20" y2="85.00" stroke="#111" stroke-width="0.9"/>
<line x1="577.80" y1="80.00" x2="580.60" y2="80.00" stroke="#111" stroke-width="0.9"/>
<line x1="577.80" y1="85.00" x2="580.60" y2="85.00" stroke="#111" stroke-width="0.9"/>
<rect x="590.00" y="88.90" width="2.8" height="2.8" fill="#111"/>
<rect x="637.20" y="159.30" width="2.8" height="2.8" fill="#111"/>
<line x1="638.60" y1="158.10" x2="638.60" y2="163.30" stroke="#111" stroke-width="0.9"/>
<line x1="637.20" y1="158.10" x2="640.00" y2="158.10" stroke="#111" stroke-width="0.9"/>
<line x1="637.20" y1="163.30" x2="640.00" y2="163.30" stroke="#111" stroke-width="0.9"/>
<rect x="649.10" y="168.80" width="2.8" height="2.8" fill="#111"/>
<rect x="661.00" y="175.50" width="2.8" height="2.8" fill="#111"/>
<line x1="662.40" y1="175.40" x2="662.40" y2="178.40" stroke="#111" stroke-width="0.9"/>
<line x1="661.00" y1="175.40" x2="663.80" y2="175.40" stroke="#111" stroke-width="0.9"/>
<line x1="661.00" y1="178.40" x2="663.80" y2="178.40" stroke="#111" stroke-width="0.9"/>
<rect x="545.30" y="227.50" width="137.20" height="139.70" fill="none" stroke="#8a8a8a" stroke-width="1.1"/>
<line x1="543.50" y1="256.00" x2="545.30" y2="256.00" stroke="#8a8a8a" stroke-width="1.1"/>
<text x="542.20" y="259.40" font-size="9.3" text-anchor="end" font-weight="normal" fill="#111111" stroke="#111111" stroke-width="0.1" >20</text>
<line x1="543.50" y1="311.60" x2="545.30" y2="311.60" stroke="#8a8a8a" stroke-width="1.1"/>
<path d="M535.32,315.00 L534.50,315.00 L534.50,309.79 C534.21,310.07 533.73,310.35 532.87,310.78 L532.87,309.99 C533.72,309.61 534.37,309.05 534.78,308.34 L535.32,308.34 Z" fill="#111111" stroke="#111111" stroke-width="0.1"/>
<text x="531.86" y="315.00" font-size="9.3" text-anchor="start" font-weight="normal" fill="#111111" stroke="#111111" stroke-width="0.1" > 0</text>
<line x1="543.50" y1="367.20" x2="545.30" y2="367.20" stroke="#8a8a8a" stroke-width="1.1"/>
<text x="542.20" y="370.60" font-size="9.3" text-anchor="end" font-weight="normal" fill="#111111" stroke="#111111" stroke-width="0.1" >0</text>
<line x1="568.20" y1="367.20" x2="568.20" y2="369.20" stroke="#8a8a8a" stroke-width="1.1"/>
<text x="568.20" y="379.00" font-size="9.3" text-anchor="middle" font-weight="normal" fill="#111111" stroke="#111111" stroke-width="0.1" >2</text>
<line x1="613.95" y1="367.20" x2="613.95" y2="369.20" stroke="#8a8a8a" stroke-width="1.1"/>
<text x="613.95" y="379.00" font-size="9.3" text-anchor="middle" font-weight="normal" fill="#111111" stroke="#111111" stroke-width="0.1" >3</text>
<line x1="659.70" y1="367.20" x2="659.70" y2="369.20" stroke="#8a8a8a" stroke-width="1.1"/>
<text x="659.70" y="379.00" font-size="9.3" text-anchor="middle" font-weight="normal" fill="#111111" stroke="#111111" stroke-width="0.1" >4</text>
<text x="614.10" y="389.60" font-size="9.45" text-anchor="middle" font-weight="normal" fill="#111111" stroke="#111111" stroke-width="0.1" >Magnetic Field (Tesla)</text>
<text x="0" y="0" font-size="9.3" text-anchor="middle" fill="#111111" stroke="#111111" stroke-width="0.1" transform="translate(528.00,292.80) rotate(-90)">MC shift (%)</text>
<text x="522.30" y="229.60" font-size="10.5" text-anchor="start" font-weight="bold" fill="#000" stroke="#000" stroke-width="0" >k</text>
<rect x="566.40" y="319.00" width="4.4" height="4.4" fill="#000"/>
<rect x="611.90" y="325.30" width="4.4" height="4.4" fill="#000"/>
<rect x="657.75" y="323.10" width="4.4" height="4.6" fill="#000"/>
<line x1="556.30" y1="324.80" x2="674.00" y2="324.80" stroke="#ff3030" stroke-width="1.5"/>
<line x1="568.20" y1="245.50" x2="659.40" y2="245.50" stroke="#d8d8d8" stroke-width="0.8"/>
<line x1="568.20" y1="268.20" x2="659.40" y2="268.20" stroke="#d8d8d8" stroke-width="0.8"/>
<line x1="568.20" y1="279.40" x2="659.40" y2="279.40" stroke="#d8d8d8" stroke-width="0.8"/>
<line x1="568.20" y1="290.40" x2="659.40" y2="290.40" stroke="#d8d8d8" stroke-width="0.8"/>
<line x1="568.20" y1="301.40" x2="659.40" y2="301.40" stroke="#d8d8d8" stroke-width="0.8"/>
<line x1="568.20" y1="245.50" x2="568.20" y2="301.40" stroke="#d8d8d8" stroke-width="0.8"/>
<line x1="617.40" y1="245.50" x2="617.40" y2="301.40" stroke="#d8d8d8" stroke-width="0.8"/>
<line x1="659.40" y1="245.50" x2="659.40" y2="301.40" stroke="#d8d8d8" stroke-width="0.8"/>
<text x="592.80" y="255.00" font-size="8.6" text-anchor="middle" font-weight="normal" fill="#1a1a1a" stroke="#1a1a1a" stroke-width="0.1" >Magnetic</text>
<text x="592.80" y="265.60" font-size="8.6" text-anchor="middle" font-weight="normal" fill="#1a1a1a" stroke="#1a1a1a" stroke-width="0.1" >field</text>
<text x="638.40" y="255.00" font-size="8.6" text-anchor="middle" font-weight="normal" fill="#1a1a1a" stroke="#1a1a1a" stroke-width="0.1" >MC shift</text>
<text x="638.40" y="265.60" font-size="8.6" text-anchor="middle" font-weight="normal" fill="#1a1a1a" stroke="#1a1a1a" stroke-width="0.1" >Error</text>
<text x="592.80" y="277.20" font-size="8.6" text-anchor="middle" font-weight="normal" fill="#1a1a1a" stroke="#1a1a1a" stroke-width="0.1" >2 T</text>
<text x="638.40" y="277.20" font-size="8.6" text-anchor="middle" font-weight="normal" fill="#1a1a1a" stroke="#1a1a1a" stroke-width="0.1" >0.08 %</text>
<text x="592.80" y="288.30" font-size="8.6" text-anchor="middle" font-weight="normal" fill="#1a1a1a" stroke="#1a1a1a" stroke-width="0.1" >3 T</text>
<path d="M635.39,288.30 L634.63,288.30 L634.63,283.48 C634.36,283.74 633.92,284.00 633.12,284.39 L633.12,283.66 C633.91,283.31 634.51,282.80 634.89,282.14 L635.39,282.14 Z" fill="#1a1a1a" stroke="#1a1a1a" stroke-width="0.1"/>
<path d="M640.17,288.30 L639.42,288.30 L639.42,283.48 C639.14,283.74 638.70,284.00 637.90,284.39 L637.90,283.66 C638.69,283.31 639.29,282.80 639.67,282.14 L640.17,282.14 Z" fill="#1a1a1a" stroke="#1a1a1a" stroke-width="0.1"/>
<text x="625.01" y="288.30" font-size="8.6" text-anchor="start" font-weight="normal" fill="#1a1a1a" stroke="#1a1a1a" stroke-width="0.1" >0.   %</text>
<text x="592.80" y="299.30" font-size="8.6" text-anchor="middle" font-weight="normal" fill="#1a1a1a" stroke="#1a1a1a" stroke-width="0.1" >4 T</text>
<text x="638.40" y="299.30" font-size="8.6" text-anchor="middle" font-weight="normal" fill="#1a1a1a" stroke="#1a1a1a" stroke-width="0.1" >0.07 %</text>
</g>
</svg>
</body></html>
